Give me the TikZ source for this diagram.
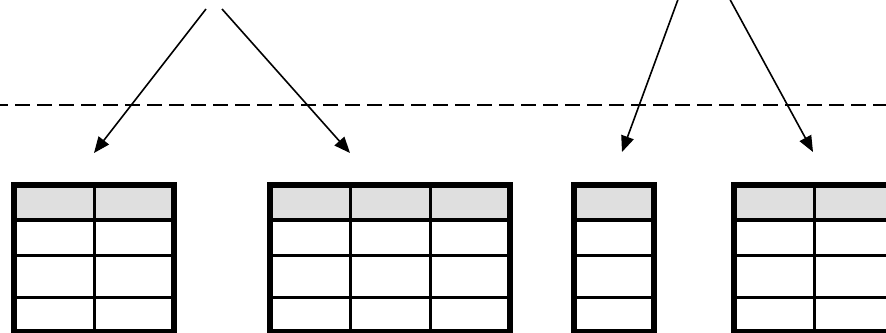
\documentclass[tikz,border=0pt]{standalone}
\usetikzlibrary{arrows.meta}
\definecolor{headgray}{HTML}{DFDFDF}
\begin{document}
\begin{tikzpicture}[x=1pt,y=-1pt,
  tableframe/.style={draw=black,line width=6pt},
  headrule/.style={draw=black,line width=4pt},
  rowrule/.style={draw=black,line width=3pt},
  colrule/.style={draw=black,line width=3pt},
  headcell/.style={fill=headgray},
  split/.style={draw=black,line width=2pt,dash pattern=on 15pt off 7pt,dash phase=7pt},
  flow/.style={draw=black,line width=1.6pt,-{Triangle[length=16pt,width=13pt]}}]
\useasboundingbox (0,0) rectangle (886,332);

% boundary between the two levels
\draw[split] (0,105) -- (886,105);

% arrow end points
\coordinate (s1) at (206,9);   \coordinate (e1) at (94,153);
\coordinate (s2) at (222,9);   \coordinate (e2) at (350,153);
\coordinate (s3) at (680,-6);  \coordinate (e3) at (622,152);
\coordinate (s4) at (727,-6);  \coordinate (e4) at (813,152);
\draw[flow] (s1) -- (e1);
\draw[flow] (s2) -- (e2);
\draw[flow] (s3) -- (e3);
\draw[flow] (s4) -- (e4);

% tables: #1 inner left, #2 inner right, #3 column separators
\newcommand{\gridtable}[3]{%
  \fill[headcell] (#1,188) rectangle (#2,218);
  \draw[headrule] (#1,220) -- (#2,220);
  \draw[rowrule] (#1,255.5) -- (#2,255.5);
  \draw[rowrule] (#1,297.5) -- (#2,297.5);
  \foreach \cx in {#3} {\draw[colrule] (\cx,188) -- (\cx,329);}
  \draw[tableframe] (#1-3,185) rectangle (#2+3,332);
}
\gridtable{17}{171}{94}
\gridtable{273}{507}{350,430}
\gridtable{577}{651}{}
\gridtable{737}{891}{814}
\end{tikzpicture}
\end{document}
